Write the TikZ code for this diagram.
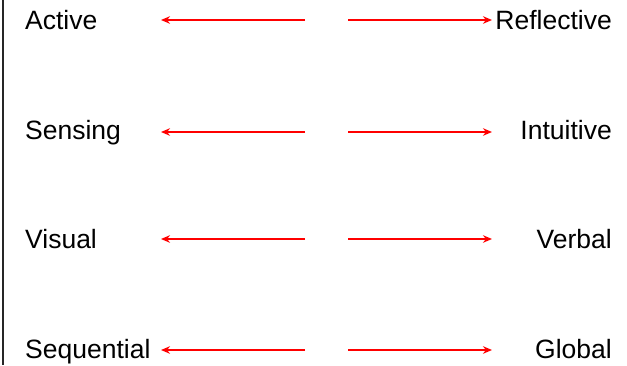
\documentclass[tikz,border=0pt]{standalone}
\usepackage{fontspec}
\setmainfont{Liberation Sans}
\usetikzlibrary{arrows.meta}
\begin{document}
\begin{tikzpicture}[x=1pt,y=-1pt,
  lbl/.style={inner sep=0pt,font=\fontsize{26.5}{30}\selectfont},
  pole/.style={red,line width=1.5pt,-{Stealth[length=9pt,width=7.5pt]}}]
\useasboundingbox (0,0) rectangle (627,365);
\draw[line width=1.5pt,black!85] (3,0) -- (3,365);
\foreach \n/\ay/\by/\L/\R in {a/20/29/Active/Reflective,b/132/139/Sensing/Intuitive,c/239/248/Visual/Verbal,d/350/358/Sequential/Global}{
  \node[lbl,anchor=base west] (\n L) at (25,\by) {\L};
  \node[lbl,anchor=base east] (\n R) at (612,\by) {\R};
  \coordinate (\n l1) at (305,\ay);
  \coordinate (\n l2) at (161,\ay);
  \coordinate (\n r1) at (348,\ay);
  \coordinate (\n r2) at (492,\ay);
  \draw[pole] (\n l1) -- (\n l2);
  \draw[pole] (\n r1) -- (\n r2);
}
\end{tikzpicture}
\end{document}
